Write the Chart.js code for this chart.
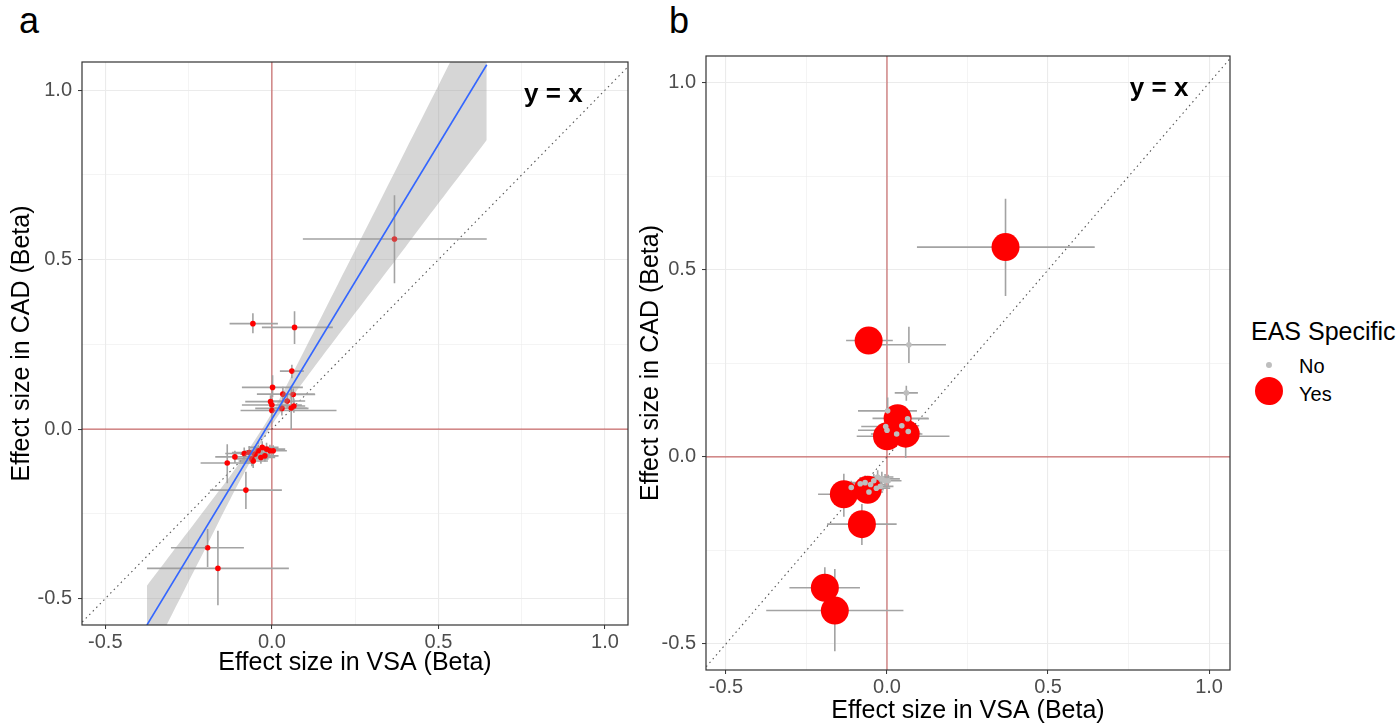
<!DOCTYPE html>
<html><head><meta charset="utf-8">
<script src="https://cdn.jsdelivr.net/npm/chart.js@4.4.1/dist/chart.umd.min.js"></script>
<style>
html,body{margin:0;padding:0;background:#fff;width:1399px;height:726px;overflow:hidden;font-family:"Liberation Sans",Arial,sans-serif;}
canvas{position:absolute;top:0;}
#cA{left:0;}
#cB{left:630px;}
.plab{position:absolute;font-size:36px;line-height:36px;color:#000;}
.lg{position:absolute;color:#000;white-space:nowrap;}
</style></head><body>
<div class="plab" style="left:19px;top:3px">a</div>
<div class="plab" style="left:669px;top:3px">b</div>
<canvas id="cA" width="650" height="726"></canvas>
<canvas id="cB" width="620" height="726"></canvas>
<div class="lg" style="left:1251px;top:316px;font-size:25px;line-height:30px;">EAS Specific</div>
<div class="lg" style="left:1266px;top:362px;width:6px;height:6px;border-radius:50%;background:#BEBEBE;"></div>
<div class="lg" style="left:1299px;top:354px;font-size:20px;line-height:24px;">No</div>
<div class="lg" style="left:1255px;top:377px;width:28px;height:28px;border-radius:50%;background:#FF0000;"></div>
<div class="lg" style="left:1299px;top:382px;font-size:20px;line-height:24px;">Yes</div>
<script>
// ---- data: EAS-specific (Yes) variants ----
const yesX   = [0.368, -0.057, 0.033, 0.000, 0.058, -0.134, -0.060, -0.078, -0.193, -0.162];
const yesY   = [0.561, 0.311, 0.103, 0.055, 0.062, -0.100, -0.088, -0.180, -0.350, -0.411];
const yesXlo = [0.093, -0.127, -0.045, -0.094, 0.005, -0.214, -0.112, -0.186, -0.303, -0.375];
const yesXhi = [0.645, 0.018, 0.129, 0.194, 0.105, -0.057, -0.010, 0.030, -0.084, 0.051];
const yesYlo = [0.430, 0.283, 0.082, 0.035, -0.003, -0.160, -0.110, -0.236, -0.407, -0.520];
const yesYhi = [0.690, 0.342, 0.125, 0.076, 0.128, -0.045, -0.066, -0.126, -0.295, -0.300];
// ---- data: not EAS-specific (No) variants ----
const noX   = [0.068, 0.060, 0.002, 0.064, -0.004, 0.000, 0.030, 0.066, 0.046, -0.111, -0.083, -0.068, -0.056, -0.051, -0.041, -0.029, -0.016, -0.006, 0.004, -0.021, -0.033];
const noY   = [0.300, 0.171, 0.123, 0.102, 0.081, 0.071, 0.061, 0.068, 0.083, -0.082, -0.072, -0.069, -0.094, -0.074, -0.064, -0.054, -0.059, -0.064, -0.064, -0.079, -0.084];
const noXlo = [-0.030, 0.024, -0.090, 0.040, -0.080, -0.090, -0.050, 0.030, 0.000, -0.170, -0.140, -0.120, -0.100, -0.095, -0.080, -0.070, -0.050, -0.045, -0.030, -0.060, -0.070];
const noXhi = [0.183, 0.096, 0.093, 0.130, 0.070, 0.090, 0.110, 0.100, 0.100, -0.050, -0.030, -0.015, -0.012, -0.005, 0.000, 0.020, 0.040, 0.035, 0.045, 0.020, 0.010];
const noYlo = [0.251, 0.150, 0.094, 0.085, 0.060, 0.050, 0.040, 0.048, 0.062, -0.100, -0.090, -0.088, -0.115, -0.093, -0.082, -0.072, -0.078, -0.082, -0.080, -0.096, -0.102];
const noYhi = [0.348, 0.190, 0.159, 0.120, 0.100, 0.092, 0.082, 0.090, 0.104, -0.064, -0.054, -0.050, -0.073, -0.055, -0.046, -0.036, -0.040, -0.046, -0.048, -0.062, -0.066];
// ---- linear fit and its confidence band (panel a) ----
const smoothX = [-0.375, 0.645];
const smoothY = [-0.578, 1.075];
const ribbonX  = [-0.375, -0.3, -0.2, -0.1, 0.0, 0.1, 0.2, 0.3, 0.4, 0.5, 0.645];
const ribbonLo = [-0.693, -0.547, -0.353, -0.160, 0.012, 0.147, 0.278, 0.407, 0.536, 0.666, 0.853];
const ribbonHi = [-0.462, -0.365, -0.236, -0.104, 0.048, 0.237, 0.431, 0.625, 0.820, 1.014, 1.297];
// ---- ticks ----
const axisTicks = [-0.5, -0.25, 0, 0.25, 0.5, 0.75, 1.0];
const annotText = "y = x";

const FONT = '"Liberation Sans", Arial, sans-serif';
const isMajor = v => Math.abs(v * 2 - Math.round(v * 2)) < 1e-6;
const pts = (xs, ys) => xs.map((x, i) => ({x: x, y: ys[i]}));
function errSegs(xs, ys, lo, hi, horiz) {
  const out = [];
  xs.forEach((x, i) => {
    if (horiz) out.push({x: lo[i], y: ys[i]}, {x: hi[i], y: ys[i]}, {x: x, y: null});
    else out.push({x: x, y: lo[i]}, {x: x, y: hi[i]}, {x: x, y: null});
  });
  return out;
}
const allX = yesX.concat(noX), allY = yesY.concat(noY);
const allXlo = yesXlo.concat(noXlo), allXhi = yesXhi.concat(noXhi);
const allYlo = yesYlo.concat(noYlo), allYhi = yesYhi.concat(noYhi);

const ERR = '#A3A3A3';
function errDatasets() {
  return [
    {type: 'scatter', data: errSegs(allX, allY, allXlo, allXhi, true), showLine: true, spanGaps: false, borderColor: ERR, borderWidth: 1.6, pointRadius: 0, order: 5},
    {type: 'scatter', data: errSegs(allX, allY, allYlo, allYhi, false), showLine: true, spanGaps: false, borderColor: ERR, borderWidth: 1.6, pointRadius: 0, order: 5}
  ];
}
function refDatasets() {
  return [
    {type: 'scatter', data: [{x: -2, y: -2}, {x: 2, y: 2}], showLine: true, borderColor: '#555', borderWidth: 1.1, borderDash: [1.5, 3.5], pointRadius: 0, order: 6},
    {type: 'scatter', data: [{x: 0, y: -2}, {x: 0, y: 2}], showLine: true, borderColor: 'rgba(178,34,34,0.65)', borderWidth: 1.2, pointRadius: 0, order: 7},
    {type: 'scatter', data: [{x: -2, y: 0}, {x: 2, y: 0}], showLine: true, borderColor: 'rgba(178,34,34,0.65)', borderWidth: 1.2, pointRadius: 0, order: 7}
  ];
}

const framePlugin = {
  id: 'frame',
  afterDatasetsDraw(chart) {
    const {ctx, chartArea: a} = chart;
    const o = chart.options.plugins.frame;
    ctx.save();
    ctx.font = 'bold 26px ' + FONT;
    ctx.fillStyle = '#000';
    ctx.textAlign = 'center';
    ctx.textBaseline = 'middle';
    ctx.fillText(annotText, chart.scales.x.getPixelForValue(o.tx), chart.scales.y.getPixelForValue(o.ty));
    ctx.strokeStyle = '#333333';
    ctx.lineWidth = 1.2;
    ctx.strokeRect(a.left, a.top, a.right - a.left, a.bottom - a.top);
    ctx.restore();
  }
};

function scales(xmin, xmax, ymin, ymax, xh, yw, ytp) {
  const grid = {
    color: '#EBEBEB',
    lineWidth: c => (c.tick && isMajor(c.tick.value)) ? 1.1 : 0.55,
    tickColor: c => (c.tick && isMajor(c.tick.value)) ? '#333333' : 'rgba(0,0,0,0)',
    tickWidth: 1,
    tickLength: 4,
    drawTicks: true
  };
  const tickCfg = {
    autoSkip: false, maxRotation: 0, color: '#4D4D4D',
    font: {size: 20, family: FONT},
    callback: v => isMajor(v) ? v.toFixed(1) : ''
  };
  return {
    x: {
      type: 'linear', min: xmin, max: xmax,
      afterBuildTicks: s => { s.ticks = axisTicks.map(v => ({value: v})); },
      afterFit: s => { s.height = xh; },
      grid: grid, border: {display: false},
      ticks: Object.assign({}, tickCfg, {padding: 1}),
      title: {display: true, text: 'Effect size in VSA (Beta)', color: '#000', font: {size: 25, family: FONT}, padding: {top: 0, bottom: 0}}
    },
    y: {
      type: 'linear', min: ymin, max: ymax,
      afterBuildTicks: s => { s.ticks = axisTicks.map(v => ({value: v})); },
      afterFit: s => { s.width = yw; },
      grid: grid, border: {display: false},
      ticks: Object.assign({}, tickCfg, {padding: 6}),
      title: {display: true, text: 'Effect size in CAD (Beta)', color: '#000', font: {size: 25, family: FONT}, padding: {top: ytp, bottom: 0}}
    }
  };
}

// Panel a
new Chart(document.getElementById('cA'), {
  type: 'scatter',
  data: {
    datasets: [
      {type: 'line', data: pts(ribbonX, ribbonHi), fill: '+1', backgroundColor: 'rgba(153,153,153,0.4)', borderWidth: 0, pointRadius: 0, tension: 0.3, order: 3},
      {type: 'line', data: pts(ribbonX, ribbonLo), fill: false, borderWidth: 0, pointRadius: 0, tension: 0.3, order: 3},
      {type: 'scatter', data: pts(smoothX, smoothY), showLine: true, borderColor: '#3366FF', borderWidth: 1.6, pointRadius: 0, order: 1},
      {type: 'scatter', data: pts(allX, allY), backgroundColor: '#FF0000', borderWidth: 0, pointRadius: 2.8, order: 4}
    ].concat(errDatasets(), refDatasets())
  },
  options: {
    responsive: false, animation: false, devicePixelRatio: 1,
    layout: {padding: {left: 0, top: 62, right: 22, bottom: 48}},
    plugins: {legend: {display: false}, tooltip: {enabled: false}, frame: {tx: 0.845, ty: 0.985}},
    scales: scales(-0.570, 1.069, -0.578, 1.083, 53, 82, 7)
  },
  plugins: [framePlugin]
});

// Panel b
new Chart(document.getElementById('cB'), {
  type: 'scatter',
  data: {
    datasets: [
      {type: 'scatter', data: pts(noX, noY), backgroundColor: '#BEBEBE', borderWidth: 0, pointRadius: 2.8, order: 1},
      {type: 'scatter', data: pts(yesX, yesY), backgroundColor: '#FF0000', borderWidth: 0, pointRadius: 14, order: 2}
    ].concat(errDatasets(), refDatasets())
  },
  options: {
    responsive: false, animation: false, devicePixelRatio: 1,
    layout: {padding: {left: 0, top: 56, right: 20, bottom: 0}},
    plugins: {legend: {display: false}, tooltip: {enabled: false}, frame: {tx: 0.845, ty: 0.985}},
    scales: scales(-0.562, 1.065, -0.570, 1.072, 56, 76, 6)
  },
  plugins: [framePlugin]
});
</script>
</body></html>
